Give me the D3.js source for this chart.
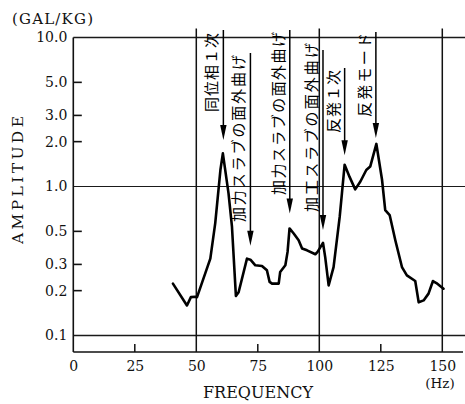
<!DOCTYPE html>
<html>
<head>
<meta charset="utf-8">
<script src="https://cdn.jsdelivr.net/npm/d3@7"></script>
<style>
  html, body { margin: 0; padding: 0; background: #fff; }
  svg { display: block; }
</style>
</head>
<body>
<svg id="chart" width="465" height="404"></svg>
<script>
// ---------- data ----------
const freq = [40.5, 46.2, 47.8, 49.6, 50.3, 55.7, 57.7, 59.8, 60.8, 63.1, 64.5, 66.1, 67.2, 70.6, 72, 74, 76.7, 78.7, 79.8, 80.8, 83.5, 84.1, 86.2, 87.1, 87.9, 89.6, 91.6, 93, 95, 98.4, 99.3, 101.5, 102.4, 103.8, 105.8, 108.3, 109.2, 110.3, 112.3, 114.6, 116.7, 119.1, 120.7, 123.2, 125.5, 126.8, 128.6, 130.9, 133.6, 135.6, 139, 140.4, 142.4, 144.4, 146.2, 147.6, 150.5];
const amplitude = [0.223, 0.159, 0.181, 0.182, 0.181, 0.328, 0.568, 1.29, 1.67, 0.90, 0.537, 0.184, 0.195, 0.328, 0.323, 0.296, 0.293, 0.274, 0.229, 0.223, 0.223, 0.267, 0.296, 0.364, 0.523, 0.484, 0.436, 0.384, 0.373, 0.351, 0.364, 0.419, 0.336, 0.217, 0.288, 0.627, 0.90, 1.40, 1.16, 0.957, 1.08, 1.29, 1.36, 1.93, 1.11, 0.695, 0.643, 0.436, 0.288, 0.253, 0.232, 0.167, 0.172, 0.191, 0.232, 0.225, 0.206];

const xTickValues = [0, 25, 50, 75, 100, 125, 150];
const xGridValues = [50, 100, 150];
const yTickValues = [10, 5, 3, 2, 1, 0.5, 0.3, 0.2, 0.1];
const yTickLabels = ["10.0", "5.0", "3.0", "2.0", "1.0", "0.5", "0.3", "0.2", "0.1"];
const yGridValues = [10, 1, 0.1];

const annotLabels = ["同位相１次", "加力スラブの面外曲げ", "加力スラブの面外曲げ", "加工スラブの面外曲げ", "反発１次", "反発モード"];
const annotFreq = [61, 72, 88, 101.5, 110.3, 123];
const annotTipAmp = [2.05, 0.40, 0.66, 0.51, 1.62, 2.12];

// ---------- layout ----------
const svg = d3.select("#chart");
const X0 = 73.3, PX_PER_HZ = 2.46;
const x = d3.scaleLinear().domain([0, 158.5]).range([X0, X0 + 158.5 * PX_PER_HZ]);
const y = d3.scaleLog().domain([0.1, 10]).range([335.5, 37.5]);
const bottomY = 352;
const rightX = 465;
const serif = "'DejaVu Serif', serif";
const jp = "'Noto Sans CJK JP', sans-serif";

// annotation layout (pixels): line top, text start (bottom), text end (top)
const annotLineTop = [30, 53, 30, 50, 68, 32];
const annotTextBottom = [112, 222, 195, 212, 133, 117];
const annotTextTop = [33, 55, 32, 43, 70, 33];

// ---------- grid / frame ----------
const g = svg.append("g");

g.selectAll("line.hgrid").data(yGridValues).join("line")
  .attr("class", "hgrid")
  .attr("x1", x(0)).attr("x2", rightX)
  .attr("y1", d => y(d)).attr("y2", d => y(d))
  .attr("stroke", "#1a1a1a").attr("stroke-width", d => d === 1 ? 1.2 : 1.3);

g.selectAll("line.vgrid").data(xGridValues).join("line")
  .attr("class", "vgrid")
  .attr("x1", d => x(d)).attr("x2", d => x(d))
  .attr("y1", bottomY).attr("y2", y(10) - 9)
  .attr("stroke", "#111").attr("stroke-width", 1.5);

const xAxis = d3.axisBottom(x).tickValues(xTickValues).tickSize(0).tickPadding(9)
  .tickFormat(d3.format("d"));
const xAxisG = g.append("g").attr("transform", `translate(0,${bottomY})`).call(xAxis);
xAxisG.select(".domain").remove();
xAxisG.selectAll("text").attr("font-family", serif).attr("font-size", 14).attr("fill", "#111");
g.append("line").attr("x1", x(0)).attr("x2", 463).attr("y1", bottomY).attr("y2", bottomY)
  .attr("stroke", "#111").attr("stroke-width", 1.6);
g.selectAll("line.xminor").data(xTickValues.filter(d => !xGridValues.includes(d) && d !== 0)).join("line")
  .attr("class", "xminor")
  .attr("x1", d => x(d)).attr("x2", d => x(d))
  .attr("y1", bottomY).attr("y2", bottomY - 8)
  .attr("stroke", "#111").attr("stroke-width", 1.5);

const yAxis = d3.axisLeft(y).tickValues(yTickValues).tickSize(0).tickPadding(6)
  .tickFormat((d, i) => yTickLabels[i]);
const yAxisG = g.append("g").attr("transform", `translate(${x(0)},0)`).call(yAxis);
yAxisG.select(".domain").remove();
yAxisG.selectAll("text").attr("font-family", serif).attr("font-size", 14).attr("fill", "#111");
g.append("line").attr("x1", x(0)).attr("x2", x(0)).attr("y1", y(10)).attr("y2", bottomY)
  .attr("stroke", "#111").attr("stroke-width", 1.6);
g.selectAll("line.yminor").data(yTickValues.filter(d => !yGridValues.includes(d))).join("line")
  .attr("class", "yminor")
  .attr("x1", x(0)).attr("x2", x(0) + 8.5)
  .attr("y1", d => y(d)).attr("y2", d => y(d))
  .attr("stroke", "#111").attr("stroke-width", 1.6);

// axis titles
svg.append("text").attr("x", 12).attr("y", 24)
  .attr("font-family", serif).attr("font-size", 15).attr("fill", "#111")
  .attr("textLength", 81).attr("lengthAdjust", "spacing")
  .text("(GAL/KG)");
svg.append("text")
  .attr("transform", `translate(23,244) rotate(-90)`)
  .attr("font-family", serif).attr("font-size", 15.5).attr("fill", "#111")
  .attr("textLength", 128).attr("lengthAdjust", "spacing")
  .text("AMPLITUDE");
svg.append("text").attr("x", 203).attr("y", 398)
  .attr("font-family", serif).attr("font-size", 16).attr("fill", "#111")
  .attr("textLength", 110).attr("lengthAdjust", "spacing")
  .text("FREQUENCY");
svg.append("text").attr("x", 440).attr("y", 388).attr("text-anchor", "middle")
  .attr("font-family", serif).attr("font-size", 13.5).attr("fill", "#111")
  .text("(Hz)");

// ---------- curve ----------
const pts = freq.map((f, i) => [f, amplitude[i]]);
const line = d3.line().x(d => x(d[0])).y(d => y(d[1]));
svg.append("path").datum(pts)
  .attr("d", line)
  .attr("fill", "none").attr("stroke", "#000").attr("stroke-width", 2.6)
  .attr("stroke-linejoin", "round").attr("stroke-linecap", "round");

// ---------- annotations ----------
const ann = svg.append("g");
annotLabels.forEach((lab, i) => {
  const ax = x(annotFreq[i]);
  const tipY = y(annotTipAmp[i]);
  const headLen = 15, headW = 3.2;
  ann.append("line")
    .attr("x1", ax).attr("x2", ax)
    .attr("y1", annotLineTop[i]).attr("y2", tipY - headLen + 2)
    .attr("stroke", "#000").attr("stroke-width", 1.5);
  ann.append("path")
    .attr("d", `M${ax - headW},${tipY - headLen} L${ax + headW},${tipY - headLen} L${ax},${tipY} Z`)
    .attr("fill", "#000");
  const tx = ax - 12.5;
  const ty = annotTextBottom[i];
  ann.append("text")
    .attr("transform", `translate(${tx},${ty}) rotate(-90)`)
    .attr("dominant-baseline", "central")
    .attr("font-family", jp).attr("font-size", 15).attr("fill", "#000")
    .attr("textLength", annotTextBottom[i] - annotTextTop[i]).attr("lengthAdjust", "spacing")
    .text(lab);
});
</script>
</body>
</html>
